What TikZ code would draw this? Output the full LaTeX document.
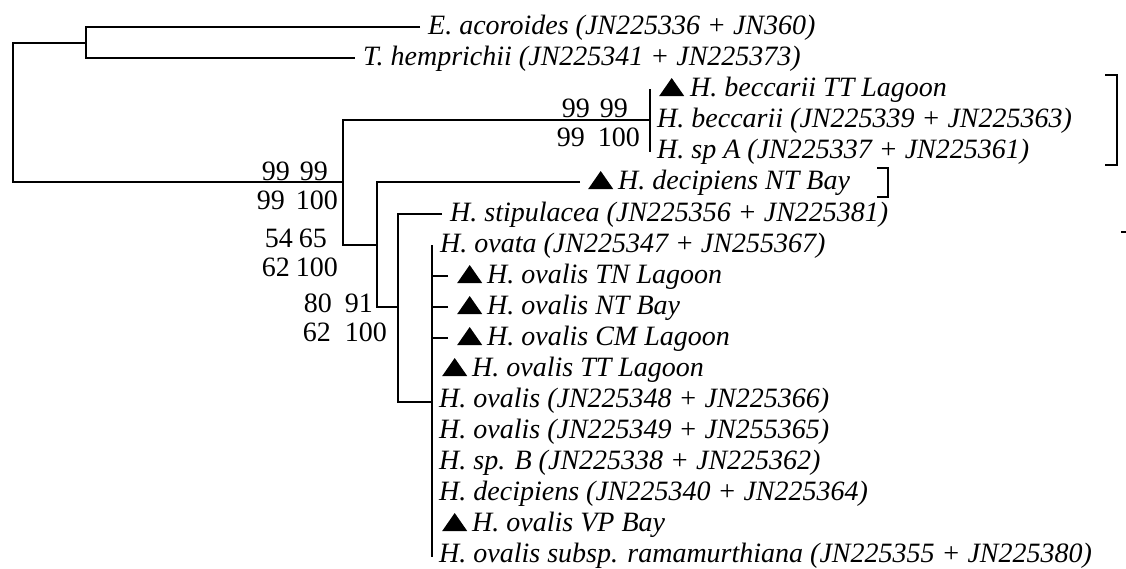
\documentclass[tikz,border=0pt]{standalone}
\usepackage{fontspec}
\setmainfont{Liberation Serif}
\newcommand\tri{\tikz[baseline=0pt]\fill (0pt,0pt)--(25pt,0pt)--(12.5pt,18pt)--cycle;}
\tikzset{
  branch/.style={line width=1.8pt, line join=miter},
  bracket/.style={line width=1.8pt, line join=miter},
  taxon/.style={anchor=base west, inner sep=0pt, font=\fontsize{28}{30}\selectfont\itshape},
  support/.style={anchor=base east, inner sep=0pt, font=\fontsize{28}{30}\selectfont},
}
\begin{document}
\begin{tikzpicture}[x=1pt,y=-1pt]
\useasboundingbox (0,0) rectangle (1126,568);
% taxa
\node[taxon] (eac) at (428,34) {E. acoroides (JN225336 + JN360)};
\node[taxon] (the) at (363,65) {T. hemprichii (JN225341 + JN225373)};
\node[taxon] (bTT) at (659,96) {\tri\hspace{6pt}H. beccarii TT Lagoon};
\node[taxon] (bJN) at (657,127) {H. beccarii (JN225339 + JN225363)};
\node[taxon] (spA) at (657,158) {H. sp A (JN225337 + JN225361)};
\node[taxon] (dNT) at (588,189) {\tri\hspace{5pt}H. decipiens NT Bay};
\node[taxon] (sti) at (450,221) {H. stipulacea (JN225356 + JN225381)};
\node[taxon] (ova) at (440,252) {H. ovata (JN225347 + JN255367)};
\node[taxon] (oTN) at (457,283) {\tri\hspace{5pt}H. ovalis TN Lagoon};
\node[taxon] (oNT) at (457,314) {\tri\hspace{5pt}H. ovalis NT Bay};
\node[taxon] (oCM) at (457,345) {\tri\hspace{5pt}H. ovalis CM Lagoon};
\node[taxon] (oTT) at (442,376) {\tri\hspace{5pt}H. ovalis TT Lagoon};
\node[taxon] (o48) at (439,407) {H. ovalis (JN225348 + JN225366)};
\node[taxon] (o49) at (439,438) {H. ovalis (JN225349 + JN255365)};
\node[taxon] (spB) at (439,469) {H. sp. B (JN225338 + JN225362)};
\node[taxon] (dJN) at (439,500) {H. decipiens (JN225340 + JN225364)};
\node[taxon] (oVP) at (442,531) {\tri\hspace{5pt}H. ovalis VP Bay};
\node[taxon] (ram) at (439,562) {H. ovalis subsp. ramamurthiana (JN225355 + JN225380)};
% branch tips
\coordinate (tEac) at (420,27);
\coordinate (tThe) at (355,58);
\coordinate (tDec) at (580,182);
\coordinate (tSti) at (442,214);
\coordinate (t1) at (448,276);
\coordinate (t2) at (448,307);
\coordinate (t3) at (448,338);
% internal nodes
\coordinate (n1) at (13,112);
\coordinate (n2) at (86,43);
\coordinate (n3) at (343,182);
\coordinate (n4) at (650,120);
\coordinate (n4a) at (650,89);
\coordinate (n4b) at (650,152);
\coordinate (n5) at (377,245);
\coordinate (n6) at (398,307);
\coordinate (n7) at (432,402);
\coordinate (n7a) at (432,245);
\coordinate (n7b) at (432,557);
% branches
\draw[branch] (tEac) -| (n2) |- (tThe);
\draw[branch] (n2) -| (n1) |- (n3);
\draw[branch] (n4) -| (n3) |- (n5);
\draw[branch] (n4a) -- (n4b);
\draw[branch] (tDec) -| (n5) |- (n6);
\draw[branch] (tSti) -| (n6) |- (n7);
\draw[branch] (n7a) -- (n7b);
\draw[branch] (t1) -- (t1 -| n7);
\draw[branch] (t2) -- (t2 -| n7);
\draw[branch] (t3) -- (t3 -| n7);
% brackets
\coordinate (b1) at (1105,75);
\coordinate (b2) at (1117,165);
\draw[bracket] (b1) -| (b2) -- (b2 -| b1);
\coordinate (c1) at (877,168);
\coordinate (c2) at (888,197);
\draw[bracket] (c1) -| (c2) -- (c2 -| c1);
\coordinate (s1) at (1121,232);
\coordinate (s2) at (1126,232);
\draw[branch] (s1) -- (s2);
% support values
\node[support] (s3a) at (328,180) {99\hspace{10pt}99};
\node[support] (s3b) at (338,209) {99\hspace{11pt}100};
\node[support] (s5a) at (327,247) {54\hspace{6pt}65};
\node[support] (s5b) at (338,276) {62\hspace{6pt}100};
\node[support] (s6a) at (373,312) {80\hspace{13pt}91};
\node[support] (s6b) at (387,341) {62\hspace{14pt}100};
\node[support] (s4a) at (628,117) {99\hspace{10pt}99};
\node[support] (s4b) at (640,146) {99\hspace{13pt}100};
\end{tikzpicture}
\end{document}
